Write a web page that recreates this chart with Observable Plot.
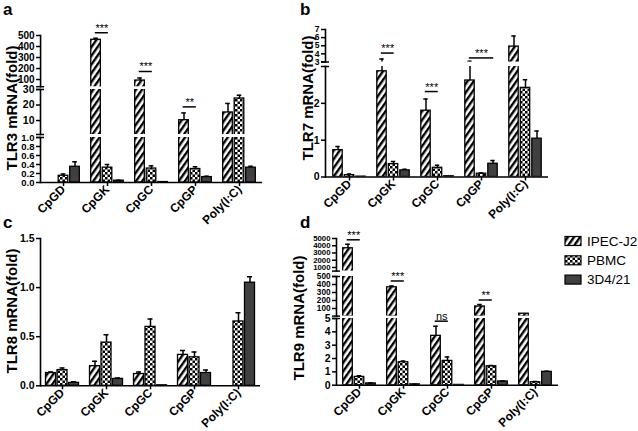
<!DOCTYPE html>
<html>
<head>
<meta charset="utf-8">
<script src="https://cdn.jsdelivr.net/npm/d3@7"></script>
<script src="https://cdn.jsdelivr.net/npm/@observablehq/plot@0.6"></script>
<style>
  html, body { margin: 0; padding: 0; background: #fff; }
  #fig { position: relative; width: 638px; height: 431px; overflow: hidden; background: #fff;
         font-family: "Liberation Sans", Arial, Helvetica, sans-serif; }
  #fig svg.seg { position: absolute; left: 0; }
  #overlay { position: absolute; left: 0; top: 0; pointer-events: none; }
</style>
</head>
<body>
<svg width="0" height="0" style="position:absolute">
  <defs>
    <pattern id="hatch" patternUnits="userSpaceOnUse" width="5" height="5" patternTransform="rotate(35)">
      <rect width="5" height="5" fill="#fff"/>
      <rect width="2.4" height="5" fill="#000"/>
    </pattern>
    <pattern id="checker" patternUnits="userSpaceOnUse" width="5" height="5">
      <rect width="5" height="5" fill="#fff"/>
      <rect width="2.5" height="2.5" fill="#000"/>
      <rect x="2.5" y="2.5" width="2.5" height="2.5" fill="#000"/>
    </pattern>
  </defs>
</svg>
<div id="fig"></div>
<script>
// ---------------- data ----------------
const categories = ["CpGD", "CpGK", "CpGC", "CpGP", "Poly(I:C)"];
const seriesNames = ["IPEC-J2", "PBMC", "3D4/21"];

// (a) TLR3
const tlr3IPEC    = [0, 461, 91, 10.2, 15.2];
const tlr3IPECerr = [0, 15, 24, 4.7, 5.8];
const tlr3PBMC    = [0.15, 0.33, 0.31, 0.30, 24.2];
const tlr3PBMCerr = [0.04, 0.07, 0.06, 0.05, 2.1];
const tlr3Mac     = [0.35, 0.04, 0.01, 0.12, 0.33];
const tlr3MacErr  = [0.11, 0.01, 0, 0.02, 0.03];
const tlr3Domains = [[35, 500], [1, 30], [0, 1]];
const tlr3Ticks   = [[100, 200, 300, 400, 500], [10, 20, 30], [0, 0.2, 0.4, 0.6, 0.8, 1.0]];
const tlr3Sig     = [["CpGK", 0, 1, 525, "***"], ["CpGC", 0, 1, 173, "***"], ["CpGP", 0, 1, 18.8, "**"]];

// (b) TLR7
const tlr7IPEC    = [0.73, 2.87, 1.8, 2.62, 4.9];
const tlr7IPECerr = [0.1, 0.5, 0.32, 0.48, 1.3];
const tlr7PBMC    = [0.05, 0.35, 0.25, 0.09, 2.42];
const tlr7PBMCerr = [0.03, 0.07, 0.07, 0.02, 0.22];
const tlr7Mac     = [0.01, 0.18, 0.02, 0.36, 1.04];
const tlr7MacErr  = [0, 0.03, 0, 0.09, 0.21];
const tlr7Domains = [[3, 7], [0, 3]];
const tlr7Ticks   = [[3, 4, 5, 6, 7], [0, 1, 2]];
const tlr7Sig     = [["CpGK", 0, 1, 4.1, "***"], ["CpGC", 0, 1, 2.32, "***"], ["CpGP", 0, 2, 3.5, "***"]];

// (c) TLR8
const tlr8IPEC    = [0.13, 0.2, 0.12, 0.315, 0];
const tlr8IPECerr = [0.01, 0.05, 0.02, 0.045, 0];
const tlr8PBMC    = [0.16, 0.44, 0.6, 0.29, 0.655];
const tlr8PBMCerr = [0.02, 0.08, 0.08, 0.055, 0.09];
const tlr8Mac     = [0.03, 0.07, 0.005, 0.13, 1.05];
const tlr8MacErr  = [0.01, 0.01, 0, 0.03, 0.06];
const tlr8Domains = [[0, 1.5]];
const tlr8Ticks   = [[0, 0.5, 1.0, 1.5]];
const tlr8Sig     = [];

// (d) TLR9
const tlr9IPEC    = [3650, 365, 3.7, 125, 35];
const tlr9IPECerr = [550, 15, 0.72, 25, 0];
const tlr9PBMC    = [0.62, 1.72, 1.82, 1.42, 0.22];
const tlr9PBMCerr = [0.08, 0.1, 0.3, 0.05, 0.05];
const tlr9Mac     = [0.13, 0.06, 0.02, 0.28, 1.0];
const tlr9MacErr  = [0.03, 0.01, 0, 0.03, 0.05];
const tlr9Domains = [[500, 5000], [5, 500], [0, 5]];
const tlr9Ticks   = [[1000, 2000, 3000, 4000, 5000], [100, 200, 300, 400, 500], [0, 1, 2, 3, 4, 5]];
const tlr9Sig     = [["CpGD", 0, 1, 4820, "***"], ["CpGK", 0, 1, 444, "***"], ["CpGC", 0, 1, 4.8, "ns"], ["CpGP", 0, 1, 206, "**"]];

// ---------------- styles / layout ----------------
const FONT = "'Liberation Sans', Arial, Helvetica, sans-serif";
const fills = ["url(#hatch)", "url(#checker)", "#404040"];
const W = 638;
const fmtInt = d3.format("d"), fmt1 = d3.format(".1f");

const panels = [
  {letter: "a", ylabel: "TLR3 mRNA(fold)", left: 40, right: 262,
   segPx: [[35, 86.2], [89.3, 134.3], [136.7, 181.7]], fmts: [fmtInt, fmtInt, fmt1], tickFont: [10, 10.5, 9.5],
   domains: tlr3Domains, ticks: tlr3Ticks, sig: tlr3Sig,
   values: [tlr3IPEC, tlr3PBMC, tlr3Mac], errors: [tlr3IPECerr, tlr3PBMCerr, tlr3MacErr],
   letterPos: [3, 15], labelPos: [11, 108]},
  {letter: "b", ylabel: "TLR7 mRNA(fold)", left: 325, right: 548,
   segPx: [[28.5, 61], [65.5, 176]], fmts: [fmtInt, fmtInt], tickFont: [8.5, 10.5],
   domains: tlr7Domains, ticks: tlr7Ticks, sig: tlr7Sig,
   values: [tlr7IPEC, tlr7PBMC, tlr7Mac], errors: [tlr7IPECerr, tlr7PBMCerr, tlr7MacErr],
   letterPos: [300, 15], labelPos: [307, 98]},
  {letter: "c", ylabel: "TLR8 mRNA(fold)", left: 40, right: 260,
   segPx: [[237.7, 385]], fmts: [fmt1], tickFont: [10.5],
   domains: tlr8Domains, ticks: tlr8Ticks, sig: tlr8Sig,
   values: [tlr8IPEC, tlr8PBMC, tlr8Mac], errors: [tlr8IPECerr, tlr8PBMCerr, tlr8MacErr],
   letterPos: [3, 228], labelPos: [11, 311]},
  {letter: "d", ylabel: "TLR9 mRNA(fold)", left: 336, right: 558,
   segPx: [[237.7, 270.3], [275.5, 315.1], [318.3, 385]], fmts: [fmtInt, fmtInt, fmtInt], tickFont: [7.8, 8.2, 10.5],
   domains: tlr9Domains, ticks: tlr9Ticks, sig: tlr9Sig,
   values: [tlr9IPEC, tlr9PBMC, tlr9Mac], errors: [tlr9IPECerr, tlr9PBMCerr, tlr9MacErr],
   letterPos: [300, 228], labelPos: [298, 318]}
];

const fig = document.getElementById("fig");

function drawPanel(p) {
  const bw = (p.right - p.left) / categories.length;
  const step = 11.5, barW = 10, capW = 5;
  const rows = [];
  p.values.forEach((vals, si) => vals.forEach((v, ci) => {
    const err = p.errors[si][ci];
    rows.push({cat: categories[ci], si, v, err, top: v + err});
  }));
  const sigRows = p.sig.map(([cat, a, b, y, label]) => ({cat, a, b, y, label}));
  const n = p.domains.length;
  p.domains.forEach((dom, k) => {
    const [y0, y1] = p.segPx[k];
    const isTop = k === 0, isBottom = k === n - 1;
    const marks = [];
    p.values.forEach((_, si) => {
      // in the upper pieces of a broken axis, only values that reach into the piece are drawn
      const d = rows.filter(r => r.si === si && (isBottom || r.v > dom[0]));
      const e = rows.filter(r => r.si === si && r.err > 0 && (isBottom || r.top > dom[0]));
      const dx = (si - 1) * step;
      marks.push(Plot.barY(d, {x: "cat", y: "v", fill: fills[si], stroke: "black", strokeWidth: 1.3,
        insetLeft: (bw - barW) / 2, insetRight: (bw - barW) / 2, dx, clip: true}));
      marks.push(Plot.ruleX(e, {x: "cat", y1: "v", y2: "top", dx, stroke: "black", strokeWidth: 1.5, clip: true}));
      marks.push(Plot.tickY(e, {x: "cat", y: "top", dx, stroke: "black", strokeWidth: 1.5,
        insetLeft: (bw - capW) / 2, insetRight: (bw - capW) / 2, clip: true}));
    });
    sigRows.filter(s => p.domains.findIndex(dm => s.y >= dm[0]) === k).forEach(s => {
      marks.push(Plot.tickY([s], {x: "cat", y: "y", stroke: "black", strokeWidth: 1.5,
        insetLeft: bw / 2 + (s.a - 1) * step - 1, insetRight: bw / 2 - (s.b - 1) * step - 1}));
      marks.push(Plot.text([s], {x: "cat", y: "y", text: "label", dx: ((s.a + s.b) / 2 - 1) * step,
        dy: -1, lineAnchor: "bottom", fontSize: 11, fill: "black"}));
    });
    marks.push(Plot.axisY({ticks: p.ticks[k], tickFormat: p.fmts[k], tickSize: 4, tickPadding: 2,
      fontSize: p.tickFont[k], fontWeight: "bold", strokeWidth: 1.5, label: null}));
    marks.push(Plot.frame({anchor: "left", stroke: "black", strokeWidth: 1.6}));
    const frameW = p.right - p.left;
    if (!isBottom) marks.push(Plot.ruleY([dom[0]], {dx: -4, insetRight: frameW - 8, stroke: "black", strokeWidth: 1.5}));
    if (!isTop) marks.push(Plot.ruleY([dom[1]], {dx: -4, insetRight: frameW - 8, stroke: "black", strokeWidth: 1.5}));
    if (isBottom) {
      marks.push(Plot.ruleY([0], {stroke: "black", strokeWidth: 1.6}));
      marks.push(Plot.axisX({tickRotate: -45, tickSize: 4, tickPadding: 1, fontSize: 12, fontWeight: "bold",
        strokeWidth: 1.5, label: null}));
    }
    const svg = Plot.plot({
      width: W, height: y1 - y0,
      marginLeft: p.left, marginRight: W - p.right, marginTop: 0, marginBottom: 0,
      x: isBottom ? {domain: categories, padding: 0} : {domain: categories, padding: 0, axis: null},
      y: {domain: dom},
      style: {background: "none", overflow: "visible", fontFamily: FONT, color: "black"},
      marks
    });
    svg.classList.add("seg");
    svg.style.top = y0 + "px";
    svg.style.position = "absolute";
    svg.style.left = "0px";
    fig.appendChild(svg);
  });
}

panels.forEach(drawPanel);

// overlay text: panel letters, y titles, legend
const ns = "http://www.w3.org/2000/svg";
const ov = document.createElementNS(ns, "svg");
ov.setAttribute("id", "overlay");
ov.setAttribute("width", W);
ov.setAttribute("height", 431);
ov.style.fontFamily = FONT;
function txt(x, y, s, attrs) {
  const t = document.createElementNS(ns, "text");
  t.setAttribute("x", x); t.setAttribute("y", y);
  for (const k in attrs) t.setAttribute(k, attrs[k]);
  t.textContent = s;
  ov.appendChild(t);
  return t;
}
panels.forEach(p => {
  txt(p.letterPos[0], p.letterPos[1], p.letter, {"font-size": 17, "font-weight": "bold"});
  txt(0, 0, p.ylabel, {"font-size": 15, "font-weight": "bold", "text-anchor": "middle",
    "dominant-baseline": "central", transform: `translate(${p.labelPos[0]},${p.labelPos[1]}) rotate(-90)`});
});
seriesNames.forEach((s, i) => {
  const cy = 241 + i * 19.3;
  const r = document.createElementNS(ns, "rect");
  r.setAttribute("x", 565); r.setAttribute("y", cy - 4.5);
  r.setAttribute("width", 16); r.setAttribute("height", 9);
  r.setAttribute("fill", fills[i]); r.setAttribute("stroke", "black"); r.setAttribute("stroke-width", 1.2);
  ov.appendChild(r);
  txt(587, cy, s, {"font-size": 13.5, "dominant-baseline": "central"});
});
fig.appendChild(ov);
</script>
</body>
</html>
